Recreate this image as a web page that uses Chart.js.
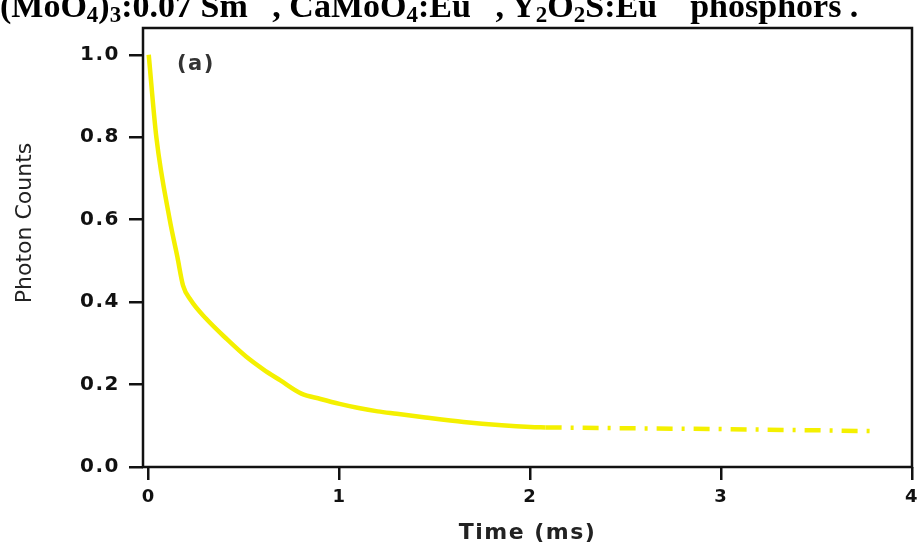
<!DOCTYPE html>
<html>
<head>
<meta charset="utf-8">
<script src="https://cdn.jsdelivr.net/npm/chart.js@4"></script>
<style>
  body { margin: 0; background: #fff; }
  #wrap { position: relative; width: 920px; height: 546px; overflow: hidden; }
  #caption {
    position: absolute; left: 0px; top: -9px; white-space: nowrap;
    font: bold 34px/30px "Liberation Serif", serif; color: #000;
  }
  #caption .sb { font-size: 23px; position: relative; top: 5px; }
  #caption .sp { font-size: 23px; position: relative; top: -17px; }
</style>
</head>
<body>
<div id="wrap">
  <canvas id="decay" width="920" height="546"></canvas>
  <div id="caption">(MoO<span class="sb">4</span>)<span class="sb">3</span>:0.07 Sm<span class="sp">3+</span>, CaMoO<span class="sb">4</span>:Eu<span class="sp">3+</span>, Y<span class="sb">2</span>O<span class="sb">2</span>S:Eu<span class="sp">3+</span> phosphors .</div>
</div>
<script>
// decay curve
const solidTimes  = [0, 0.04, 0.11, 0.15, 0.18, 0.22, 0.3, 0.41, 0.51, 0.6, 0.69, 0.8, 0.9, 1.0, 1.1, 1.2, 1.3, 1.45, 1.65, 1.85, 2.0, 2.08];
const solidCounts = [1.0, 0.8, 0.6, 0.51, 0.44, 0.405, 0.36, 0.31, 0.268, 0.237, 0.21, 0.178, 0.165, 0.153, 0.143, 0.135, 0.129, 0.12, 0.109, 0.101, 0.097, 0.096];
const tailTimes   = [2.08, 2.5, 3.0, 3.5, 3.8];
const tailCounts  = [0.096, 0.094, 0.092, 0.089, 0.087];
const xTicks = [0, 1, 2, 3, 4];
const yTicks = [0.0, 0.2, 0.4, 0.6, 0.8, 1.0];

const lineColor = '#f4f000';
const font = '"DejaVu Sans", Verdana, sans-serif';

const pts = (xs, ys) => xs.map((x, i) => ({ x: x, y: ys[i] }));

const frame = {
  id: 'frame',
  beforeUpdate(chart) { chart.ctx.letterSpacing = '1.5px'; },
  beforeDraw(chart) { chart.ctx.letterSpacing = '1.5px'; },
  afterDraw(chart) {
    const a = chart.chartArea, c = chart.ctx;
    c.save();
    c.strokeStyle = '#111';
    c.lineWidth = 2.5;
    c.strokeRect(a.left, a.top, a.right - a.left, a.bottom - a.top);
    c.fillStyle = '#333';
    c.font = 'bold 21px ' + font;
    c.textBaseline = 'middle';
    c.fillText('(a)', 177, 65);
    c.translate(25, 223);
    c.rotate(-Math.PI / 2);
    c.textAlign = 'center';
    c.fillStyle = '#222';
    c.letterSpacing = '0px';
    c.font = '22px ' + font;
    c.fillText('Photon Counts', 0, 0);
    c.restore();
  }
};

new Chart(document.getElementById('decay'), {
  type: 'scatter',
  data: {
    datasets: [{
      data: pts(solidTimes, solidCounts),
      showLine: true,
      borderColor: lineColor,
      borderWidth: 4.5,
      pointRadius: 0,
      cubicInterpolationMode: 'monotone'
    }, {
      data: pts(tailTimes, tailCounts),
      showLine: true,
      borderColor: lineColor,
      borderWidth: 4.5,
      borderDash: [16, 9, 3, 9],
      pointRadius: 0
    }]
  },
  options: {
    responsive: false,
    animation: false,
    layout: { padding: { top: 28, right: 8, left: 0, bottom: 0 } },
    plugins: { legend: { display: false }, tooltip: { enabled: false } },
    scales: {
      x: {
        type: 'linear', min: -0.03, max: 4.0,
        afterBuildTicks: s => { s.ticks = xTicks.map(v => ({ value: v })); },
        afterFit: s => { s.height = 79; s.paddingLeft = 0; s.paddingRight = 0; },
        grid: { drawOnChartArea: false, color: '#111', lineWidth: 2.5, tickLength: 13 },
        border: { display: false },
        ticks: {
          color: '#111', padding: 7,
          font: { family: font, size: 18, weight: 'bold' },
          callback: v => v
        },
        title: {
          display: true, text: 'Time (ms)', color: '#222', padding: { top: 0, bottom: 0 },
          font: { family: font, size: 22, weight: 'bold' }
        }
      },
      y: {
        type: 'linear', min: 0, max: 1.065,
        afterBuildTicks: s => { s.ticks = yTicks.map(v => ({ value: v })); },
        afterFit: s => { s.width = 143; s.paddingTop = 0; s.paddingBottom = 0; },
        grid: { drawOnChartArea: false, color: '#111', lineWidth: 2.5, tickLength: 14 },
        border: { display: false },
        ticks: {
          color: '#111', padding: 9,
          font: { family: font, size: 20, weight: 'bold' },
          callback: v => v.toFixed(1)
        }
      }
    }
  },
  plugins: [frame]
});
</script>
</body>
</html>
